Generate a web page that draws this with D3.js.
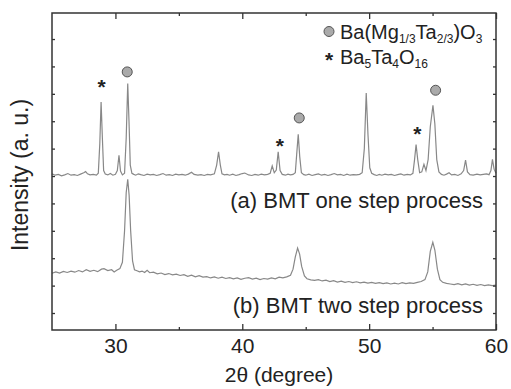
<!DOCTYPE html>
<html>
<head>
<meta charset="utf-8">
<script src="https://cdn.jsdelivr.net/npm/d3@7"></script>
<style>
  body { margin: 0; background: #fff; }
  svg { display: block; font-family: "Liberation Sans", Arial, sans-serif; }
</style>
</head>
<body>
<svg id="chart" width="511" height="389"></svg>
<script>
// XRD pattern (a) BMT one step process
var thetaA = [25.0, 25.25, 25.5, 25.75, 26.0, 26.25, 26.5, 26.75, 27.0, 27.25, 27.5, 27.65, 27.8, 28.0, 28.25, 28.5, 28.65, 28.77, 28.87, 28.97, 29.07, 29.2, 29.4, 29.6, 29.8, 30.0, 30.15, 30.28, 30.4, 30.55, 30.72, 30.85, 30.97, 31.07, 31.17, 31.3, 31.45, 31.6, 31.8, 32.0, 32.25, 32.5, 32.75, 33.0, 33.25, 33.5, 33.75, 34.0, 34.25, 34.5, 34.75, 35.0, 35.25, 35.5, 35.75, 36.0, 36.2, 36.5, 36.75, 37.0, 37.25, 37.5, 37.8, 37.98, 38.13, 38.27, 38.4, 38.6, 38.8, 39.0, 39.25, 39.5, 39.75, 40.0, 40.2, 40.5, 40.75, 41.0, 41.25, 41.5, 41.75, 42.0, 42.2, 42.36, 42.52, 42.68, 42.83, 42.98, 43.15, 43.4, 43.6, 43.8, 44.0, 44.18, 44.29, 44.41, 44.53, 44.66, 44.85, 45.0, 45.25, 45.5, 45.75, 46.0, 46.25, 46.5, 46.75, 47.0, 47.25, 47.5, 47.75, 48.0, 48.25, 48.5, 48.75, 49.0, 49.25, 49.45, 49.62, 49.77, 49.91, 50.05, 50.2, 50.4, 50.6, 50.8, 51.0, 51.25, 51.5, 51.75, 52.0, 52.25, 52.5, 52.75, 53.0, 53.25, 53.45, 53.58, 53.7, 53.83, 53.98, 54.15, 54.32, 54.48, 54.65, 54.82, 55.03, 55.18, 55.33, 55.5, 55.7, 55.9, 56.1, 56.3, 56.5, 56.75, 57.0, 57.25, 57.45, 57.6, 57.75, 57.95, 58.2, 58.5, 58.75, 59.0, 59.25, 59.45, 59.6, 59.72, 59.85, 60.0];
var intensityA = [508, 503, 506, 501, 504, 509, 503, 505, 502, 507, 512, 516, 508, 504, 506, 503, 510, 620, 770, 640, 520, 507, 504, 509, 503, 506, 520, 576, 518, 504, 510, 640, 838, 700, 540, 510, 506, 503, 508, 505, 502, 507, 504, 506, 502, 505, 509, 503, 505, 502, 507, 504, 506, 503, 507, 514, 506, 503, 505, 502, 506, 504, 508, 540, 588, 540, 508, 504, 506, 503, 507, 502, 505, 509, 511, 504, 502, 506, 503, 507, 504, 506, 510, 537, 512, 522, 588, 520, 506, 503, 507, 504, 506, 512, 580, 652, 570, 512, 505, 503, 507, 502, 505, 508, 503, 506, 502, 505, 509, 504, 506, 502, 507, 503, 505, 504, 506, 512, 600, 803, 650, 530, 510, 505, 502, 506, 503, 507, 504, 506, 502, 505, 508, 503, 506, 504, 510, 560, 615, 560, 512, 515, 543, 520, 560, 680, 758, 690, 560, 515, 506, 503, 507, 512, 504, 506, 502, 508, 520, 558, 515, 505, 503, 507, 504, 506, 508, 505, 520, 561, 525, 510];

// XRD pattern (b) BMT two step process
var thetaB = [25.0, 25.3, 25.6, 25.9, 26.2, 26.5, 26.8, 27.1, 27.4, 27.7, 28.0, 28.3, 28.6, 28.9, 29.1, 29.4, 29.7, 29.9, 30.1, 30.35, 30.55, 30.72, 30.85, 30.97, 31.08, 31.2, 31.35, 31.5, 31.7, 31.9, 32.1, 32.3, 32.5, 32.7, 33.0, 33.3, 33.6, 33.9, 34.2, 34.5, 34.8, 35.1, 35.4, 35.7, 36.0, 36.3, 36.6, 36.9, 37.2, 37.5, 37.8, 38.1, 38.4, 38.7, 39.0, 39.3, 39.6, 39.9, 40.2, 40.5, 40.8, 41.1, 41.4, 41.7, 42.0, 42.3, 42.6, 42.9, 43.2, 43.5, 43.8, 44.0, 44.18, 44.36, 44.52, 44.68, 44.9, 45.1, 45.4, 45.7, 46.0, 46.3, 46.6, 46.9, 47.2, 47.5, 47.8, 48.1, 48.4, 48.7, 49.0, 49.3, 49.6, 49.9, 50.2, 50.5, 50.8, 51.1, 51.4, 51.7, 52.0, 52.3, 52.6, 52.9, 53.2, 53.5, 53.8, 54.1, 54.4, 54.62, 54.82, 55.02, 55.18, 55.38, 55.58, 55.8, 56.1, 56.4, 56.7, 57.0, 57.3, 57.6, 57.9, 58.2, 58.5, 58.8, 59.1, 59.4, 59.7, 60.0];
var intensityB = [145, 150, 146, 152, 148, 153, 149, 155, 150, 158, 152, 156, 151, 160, 162, 155, 158, 150, 156, 162, 185, 300, 440, 488, 430, 300, 190, 158, 154, 150, 153, 148, 156, 147, 149, 143, 146, 140, 144, 139, 142, 137, 140, 134, 138, 132, 136, 131, 133, 128, 132, 127, 131, 126, 129, 125, 128, 123, 127, 129, 124, 127, 122, 126, 124, 128, 125, 131, 128, 132, 138, 160, 205, 237, 215, 170, 135, 125, 121, 119, 122, 117, 120, 115, 118, 113, 116, 112, 115, 111, 114, 110, 113, 109, 112, 108, 111, 107, 110, 106, 109, 106, 111, 107, 110, 108, 112, 115, 122, 150, 225, 258, 230, 160, 122, 112, 108, 106, 104, 107, 103, 106, 102, 105, 101, 104, 100, 103, 100, 102];

// phase markers above the peaks
var markerType = ["star", "circle", "star", "circle", "star", "circle"];
var markerTheta = [28.9, 30.93, 42.96, 44.49, 53.79, 55.24];
var markerLevel = [843, 880, 628, 712, 670, 813];

var xMajorTicks = [30, 40, 50, 60];
var xMinorTicks = [35, 45, 55];
var yTicks = [0, 100, 200, 300, 400, 500, 600, 700, 800, 900, 1000];

var svg = d3.select("#chart");
var margin = { left: 52, right: 15, top: 13, bottom: 59 };
var width = 511 - margin.left - margin.right;
var height = 389 - margin.top - margin.bottom;

var g = svg.append("g")
    .attr("transform", "translate(" + margin.left + "," + margin.top + ")");

var xScale = d3.scaleLinear().domain([25, 60]).range([0, width]);
var yScale = d3.scaleLinear().domain([-62, 1095]).range([height, 0]);

var line = d3.line()
    .x(function(d) { return xScale(d[0]); })
    .y(function(d) { return yScale(d[1]); });

function pairs(xs, ys) {
    return xs.map(function(x, i) { return [x, ys[i]]; });
}

g.append("path")
    .datum(pairs(thetaA, intensityA))
    .attr("d", line)
    .style("fill", "none")
    .style("stroke", "#888")
    .style("stroke-width", 1.2);

g.append("path")
    .datum(pairs(thetaB, intensityB))
    .attr("d", line)
    .style("fill", "none")
    .style("stroke", "#888")
    .style("stroke-width", 1.2);

// axes, ticks pointing inward
function styleAxis(sel) {
    sel.select(".domain").remove();
    sel.selectAll(".tick line").style("stroke", "#333").style("stroke-width", 1.3);
    sel.selectAll(".tick text").style("font-size", "21px").style("fill", "#222")
        .style("font-family", "'Liberation Sans', Arial, sans-serif");
}

g.append("g")
    .attr("transform", "translate(0," + height + ")")
    .call(d3.axisBottom(xScale).tickValues(xMajorTicks).tickSize(-6).tickPadding(8).tickFormat(d3.format("d")))
    .call(styleAxis);
g.append("g")
    .attr("transform", "translate(0," + height + ")")
    .call(d3.axisBottom(xScale).tickValues(xMinorTicks).tickSize(-3).tickFormat(""))
    .call(styleAxis);
g.append("g")
    .call(d3.axisTop(xScale).tickValues(xMajorTicks).tickSize(-6).tickFormat(""))
    .call(styleAxis);
g.append("g")
    .call(d3.axisTop(xScale).tickValues(xMinorTicks).tickSize(-3).tickFormat(""))
    .call(styleAxis);
g.append("g")
    .call(d3.axisLeft(yScale).tickValues(yTicks).tickSize(-3).tickFormat(""))
    .call(styleAxis);
g.append("g")
    .attr("transform", "translate(" + width + ",0)")
    .call(d3.axisRight(yScale).tickValues(yTicks).tickSize(-3).tickFormat(""))
    .call(styleAxis);

// frame
g.append("rect")
    .attr("width", width)
    .attr("height", height)
    .style("fill", "none")
    .style("stroke", "#333")
    .style("stroke-width", 1.5);

// markers
markerType.forEach(function(t, i) {
    var cx = xScale(markerTheta[i]);
    var cy = yScale(markerLevel[i]);
    if (t === "circle") {
        g.append("circle")
            .attr("cx", cx).attr("cy", cy).attr("r", 5)
            .style("fill", "#aaa").style("stroke", "#555").style("stroke-width", 1);
    } else {
        g.append("text")
            .attr("x", cx).attr("y", cy + 12)
            .attr("text-anchor", "middle")
            .style("font-size", "21px").style("font-weight", "bold").style("fill", "#222")
            .text("*");
    }
});

// legend
var legend = svg.append("g");
legend.append("circle")
    .attr("cx", 329).attr("cy", 31.5).attr("r", 5)
    .style("fill", "#aaa").style("stroke", "#555").style("stroke-width", 1);
legend.append("text")
    .attr("x", 329).attr("y", 67)
    .attr("text-anchor", "middle")
    .style("font-size", "21px").style("font-weight", "bold").style("fill", "#222")
    .text("*");

function formula(x, y, parts) {
    var t = legend.append("text").attr("x", x).attr("y", y)
        .style("font-size", "20px").style("fill", "#222");
    parts.forEach(function(p) {
        var ts = t.append("tspan").text(p[0]);
        if (p[1]) ts.style("font-size", "12px").attr("dy", 4);
        else if (p[2]) ts.attr("dy", -4);
    });
}
formula(340, 39, [["Ba(Mg"], ["1/3", true], ["Ta", false, true], ["2/3", true], [")O", false, true], ["3", true]]);
formula(340, 64, [["Ba"], ["5", true], ["Ta", false, true], ["4", true], ["O", false, true], ["16", true]]);

// series captions
svg.append("text")
    .attr("x", 483).attr("y", 208)
    .attr("text-anchor", "end")
    .style("font-size", "22px").style("fill", "#222")
    .text("(a) BMT one step process");
svg.append("text")
    .attr("x", 483).attr("y", 313)
    .attr("text-anchor", "end")
    .style("font-size", "22px").style("fill", "#222")
    .text("(b) BMT two step process");

// axis titles
svg.append("text")
    .attr("x", 279).attr("y", 382)
    .attr("text-anchor", "middle")
    .style("font-size", "21px").style("fill", "#222")
    .text("2\u03b8 (degree)");
svg.append("text")
    .attr("transform", "translate(28,175) rotate(-90)")
    .attr("text-anchor", "middle")
    .style("font-size", "23px").style("fill", "#222")
    .text("Intensity (a. u.)");
</script>
</body>
</html>
